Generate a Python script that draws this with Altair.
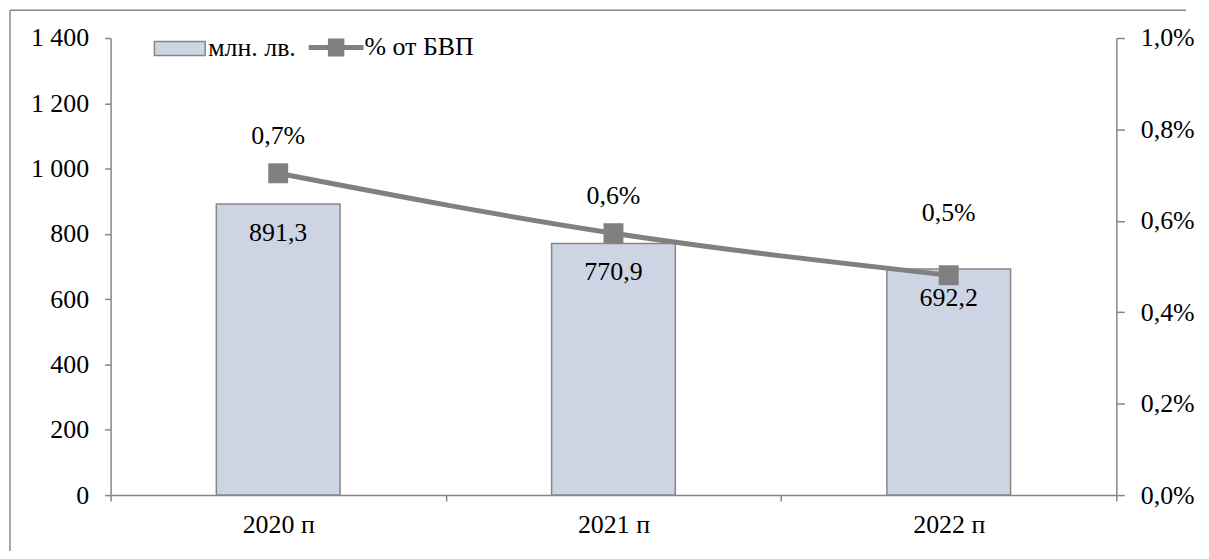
import altair as alt
import pandas as pd

categories = ["2020 п", "2021 п", "2022 п"]
values_mln = [891.3, 770.9, 692.2]
pct_gdp = [0.00704, 0.00573, 0.00481]
bar_series = "млн. лв."
line_series = "% от БВП"

df = pd.DataFrame({
    "cat": categories,
    "v": values_mln,
    "p": pct_gdp,
    "s_bar": [bar_series] * len(categories),
    "s_line": [line_series] * len(categories),
    "idx": list(range(len(categories))),
})

FONT = "Liberation Serif"
FS = 26
GRAY_AX = "#868686"
LINE_GRAY = "#808080"
BAR_FILL = "#cdd5e5"

x_enc = alt.X(
    "cat:N",
    sort=categories,
    title=None,
    scale=alt.Scale(paddingInner=0, paddingOuter=0),
    axis=alt.Axis(
        labelAngle=0, tickBand="extent", tickSize=6, labelPadding=11,
        domainColor=GRAY_AX, tickColor=GRAY_AX, domainWidth=1.5, tickWidth=1.5,
        grid=False, labelFont=FONT, labelFontSize=FS, labelColor="black",
    ),
)

y_left = alt.Y(
    "v:Q",
    title=None,
    scale=alt.Scale(domain=[0, 1400], nice=False),
    axis=alt.Axis(
        orient="left", values=[0, 200, 400, 600, 800, 1000, 1200, 1400],
        labelExpr="replace(format(datum.value, ','), ',', ' ')",
        tickSize=6, labelPadding=16, domainColor=GRAY_AX, tickColor=GRAY_AX,
        domainWidth=1.5, tickWidth=1.5,
        grid=False, labelFont=FONT, labelFontSize=FS, labelColor="black",
    ),
)

y_right = alt.Y(
    "p:Q",
    title=None,
    scale=alt.Scale(domain=[0, 0.01], nice=False),
    axis=alt.Axis(
        orient="right", values=[0, 0.002, 0.004, 0.006, 0.008, 0.01],
        labelExpr="replace(format(datum.value, '.1%'), '.', ',')",
        tickSize=8, labelPadding=16, domainColor=GRAY_AX, tickColor=GRAY_AX,
        domainWidth=1.5, tickWidth=1.5,
        grid=False, labelFont=FONT, labelFontSize=FS, labelColor="black",
    ),
)

base = alt.Chart(df)

bars = base.mark_bar(
    width={"band": 0.369}, stroke=GRAY_AX, strokeWidth=1.5
).encode(
    x=x_enc,
    y=y_left,
    fill=alt.Fill(
        "s_bar:N", title=None,
        scale=alt.Scale(domain=[bar_series], range=[BAR_FILL]),
        legend=alt.Legend(
            orient="none", legendX=43, legendY=-16, padding=0,
            symbolType="M-1,-0.275H1V0.275H-1Z", symbolSize=2601,
            symbolStrokeColor=GRAY_AX, symbolStrokeWidth=1.5,
            labelFont=FONT, labelFontSize=FS, labelColor="black", labelOffset=2,
        ),
    ),
)

bar_text = base.transform_calculate(
    lbl="replace(format(datum.v, '.1f'), '.', ',')"
).mark_text(
    baseline="middle", dy=29, font=FONT, fontSize=FS, color="black"
).encode(x=x_enc, y=y_left, text="lbl:N")

left = alt.layer(bars, bar_text)

line = base.mark_line(
    color=LINE_GRAY, strokeWidth=5, interpolate="monotone"
).encode(x=x_enc, y=y_right)

points = base.mark_point(
    shape="square", filled=True, size=400, color=LINE_GRAY
).encode(
    x=x_enc,
    y=y_right,
    opacity=alt.Opacity(
        "s_line:N", title=None,
        scale=alt.Scale(domain=[line_series], range=[1]),
        legend=alt.Legend(
            orient="none", legendX=199, legendY=-18, padding=0,
            symbolType="M-1,-0.09H-0.3V-0.33H0.3V-0.09H1V0.09H0.3V0.33H-0.3V0.09H-1Z",
            symbolSize=3025, symbolFillColor=LINE_GRAY, symbolStrokeWidth=0,
            labelFont=FONT, labelFontSize=FS, labelColor="black", labelOffset=1,
        ),
    ),
)

pct_lbl = "replace(format(datum.p, '.1%'), '.', ',')"
line_text_a = base.transform_filter("datum.idx < 2").transform_calculate(
    lbl=pct_lbl
).mark_text(
    baseline="middle", dy=-37, font=FONT, fontSize=FS, color="black"
).encode(x=x_enc, y=y_right, text="lbl:N")

line_text_b = base.transform_filter("datum.idx >= 2").transform_calculate(
    lbl=pct_lbl
).mark_text(
    baseline="middle", dy=-62, font=FONT, fontSize=FS, color="black"
).encode(x=x_enc, y=y_right, text="lbl:N")

right = alt.layer(line, points, line_text_a, line_text_b)

frame_data = alt.Data(values=[{"k": 1}])
frame_top = alt.Chart(frame_data).mark_rule(color="#8a8a8a", strokeWidth=1.5).encode(
    x=alt.value(-101), x2=alt.value(1080), y=alt.value(-28), y2=alt.value(-28)
)
frame_left = alt.Chart(frame_data).mark_rule(color="#8a8a8a", strokeWidth=1.5).encode(
    x=alt.value(-101), x2=alt.value(-101), y=alt.value(-28), y2=alt.value(700)
)

chart = alt.layer(left, right, frame_top, frame_left).resolve_scale(
    y="independent"
).properties(
    width=1010,
    height=459,
    autosize=alt.AutoSizeParams(type="none"),
    padding={"left": 103, "top": 29, "right": 85, "bottom": 55},
    background="white",
).configure_view(
    stroke=None
).configure_axis(
    grid=False, labelFont=FONT, labelFontSize=FS, labelColor="black"
)

chart.save("out.html", embed_options={"renderer": "svg", "actions": False})
